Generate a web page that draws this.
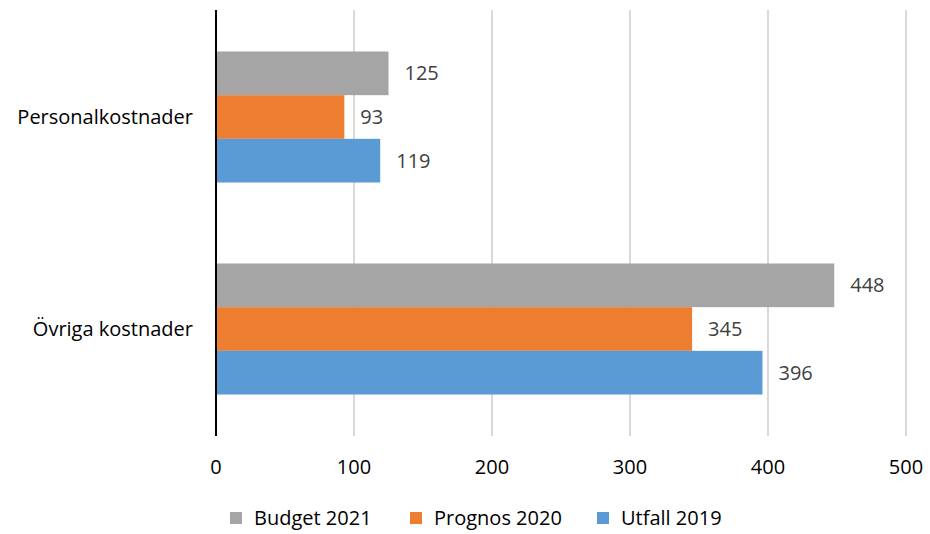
<!DOCTYPE html>
<html>
<head>
<meta charset="utf-8">
<script src="https://cdn.jsdelivr.net/npm/d3@7"></script>
<style>
  body { margin: 0; background: #fff; }
  svg text { font-family: "Open Sans", sans-serif; }
</style>
</head>
<body>
<div id="chart"></div>
<script>
// Chart data
const categories = ["Personalkostnader", "Övriga kostnader"];
const seriesNames = ["Budget 2021", "Prognos 2020", "Utfall 2019"];
const budget2021 = [125, 448];
const prognos2020 = [93, 345];
const utfall2019 = [119, 396];
const xTicks = [0, 100, 200, 300, 400, 500];
const colors = ["#a5a5a5", "#ed7d31", "#5b9bd5"];

const seriesValues = [budget2021, prognos2020, utfall2019];

const width = 930;
const height = 534;
const margin = { top: 11, right: 24, bottom: 99, left: 216 };
const fontSize = "20px";

const svg = d3
  .select("#chart")
  .append("svg")
  .attr("width", width)
  .attr("height", height);

const x = d3
  .scaleLinear()
  .domain([0, 500])
  .range([margin.left, 906]);

const y = d3
  .scaleBand()
  .domain(categories)
  .range([margin.top, height - margin.bottom])
  .paddingInner(0.382)
  .paddingOuter(0.191);

const ySeries = d3
  .scaleBand()
  .domain(seriesNames)
  .range([0, y.bandwidth()]);

// gridlines
svg
  .append("g")
  .selectAll("line")
  .data(xTicks.filter((t) => t > 0))
  .join("line")
  .attr("x1", (d) => x(d))
  .attr("x2", (d) => x(d))
  .attr("y1", 10)
  .attr("y2", 436)
  .attr("stroke", "#d9d9d9")
  .attr("stroke-width", 2);

// bars + value labels
categories.forEach((cat, ci) => {
  seriesNames.forEach((s, si) => {
    const v = seriesValues[si][ci];
    const by = y(cat) + ySeries(s);
    svg
      .append("rect")
      .attr("x", x(0))
      .attr("y", by)
      .attr("width", x(v) - x(0))
      .attr("height", ySeries.bandwidth())
      .attr("fill", colors[si]);

    svg
      .append("text")
      .attr("x", x(v) + 16)
      .attr("y", by + ySeries.bandwidth() / 2)
      .attr("dy", "0.35em")
      .attr("font-size", fontSize)
      .attr("fill", "#404040")
      .text(v);
  });

  svg
    .append("text")
    .attr("x", margin.left - 23)
    .attr("y", y(cat) + y.bandwidth() / 2)
    .attr("dy", "0.35em")
    .attr("text-anchor", "end")
    .attr("font-size", fontSize)
    .attr("fill", "#000")
    .text(cat);
});

// vertical axis line
svg
  .append("line")
  .attr("x1", x(0))
  .attr("x2", x(0))
  .attr("y1", 10)
  .attr("y2", 436)
  .attr("stroke", "#000")
  .attr("stroke-width", 2);

// x tick labels
svg
  .append("g")
  .selectAll("text")
  .data(xTicks)
  .join("text")
  .attr("x", (d) => x(d))
  .attr("y", 467)
  .attr("dy", "0.35em")
  .attr("text-anchor", "middle")
  .attr("font-size", fontSize)
  .attr("fill", "#000")
  .text((d) => d);

// legend
const legendX = [230, 410, 597];
const legend = svg.append("g");
seriesNames.forEach((s, i) => {
  legend
    .append("rect")
    .attr("x", legendX[i])
    .attr("y", 512)
    .attr("width", 12)
    .attr("height", 12)
    .attr("fill", colors[i]);
  legend
    .append("text")
    .attr("x", legendX[i] + 24)
    .attr("y", 518)
    .attr("dy", "0.35em")
    .attr("font-size", fontSize)
    .attr("fill", "#000")
    .text(s);
});
</script>
</body>
</html>
